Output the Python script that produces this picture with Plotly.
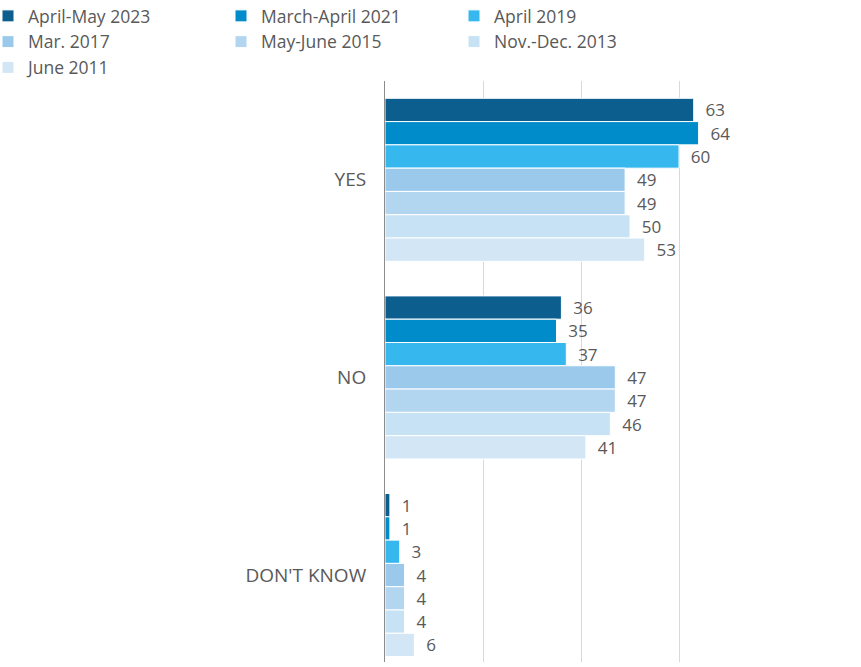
import plotly.graph_objects as go

categories = ["YES", "NO", "DON'T KNOW"]
series_names = ["April-May 2023", "March-April 2021", "April 2019", "Mar. 2017",
                "May-June 2015", "Nov.-Dec. 2013", "June 2011"]
v2023 = [63, 36, 1]
v2021 = [64, 35, 1]
v2019 = [60, 37, 3]
v2017 = [49, 47, 4]
v2015 = [49, 47, 4]
v2013 = [50, 46, 4]
v2011 = [53, 41, 6]
values = [v2023, v2021, v2019, v2017, v2015, v2013, v2011]
colors = ["#0b5e8e", "#008ccb", "#36b7ee", "#9bc9eb", "#b2d6f0", "#c7e2f4", "#d3e6f5"]

fig = go.Figure()
for name, vals, col in zip(series_names, values, colors):
    fig.add_trace(go.Bar(
        name=name, y=categories, x=vals, orientation="h",
        marker=dict(color=col, line=dict(color="white", width=1)),
        text=[f"\u00a0\u00a0{v}" for v in vals], textposition="outside",
        constraintext="none",
        textfont=dict(size=17, color="#595959"), cliponaxis=False,
    ))

W, H = 861, 667
ML, MR, MT, MB = 385, 84, 81, 5
pw = W - ML - MR
ph = H - MT - MB

fig.update_layout(
    width=W, height=H,
    paper_bgcolor="white", plot_bgcolor="white",
    font=dict(family="Open Sans, Noto Sans, sans-serif", color="#595959"),
    barmode="group", bargap=0.175, bargroupgap=0,
    margin=dict(l=ML, r=MR, t=MT, b=MB, autoexpand=False),
    showlegend=True,
    legend=dict(orientation="h", bgcolor="rgba(0,0,0,0)",
                x=(-12 - ML) / pw, y=1 + (MT + 2) / ph, xanchor="left", yanchor="top",
                entrywidth=188, entrywidthmode="pixels",
                font=dict(size=17.5, color="#595959"),
                traceorder="normal", itemwidth=30, tracegroupgap=0),
    xaxis=dict(range=[0, 80], dtick=20, showgrid=True, gridcolor="#d9d9d9",
               showticklabels=False, zeroline=False, showline=False, fixedrange=True),
    yaxis=dict(range=[2.44, -0.5], type="category", showline=True, linecolor="#8c8c8c",
               linewidth=1, ticks="", ticklabelstandoff=14,
               tickfont=dict(size=19, color="#595959"), showgrid=False),
)

fig.write_html("out.html", config={"displayModeBar": False},
               post_script="document.body.style.margin='0';")
